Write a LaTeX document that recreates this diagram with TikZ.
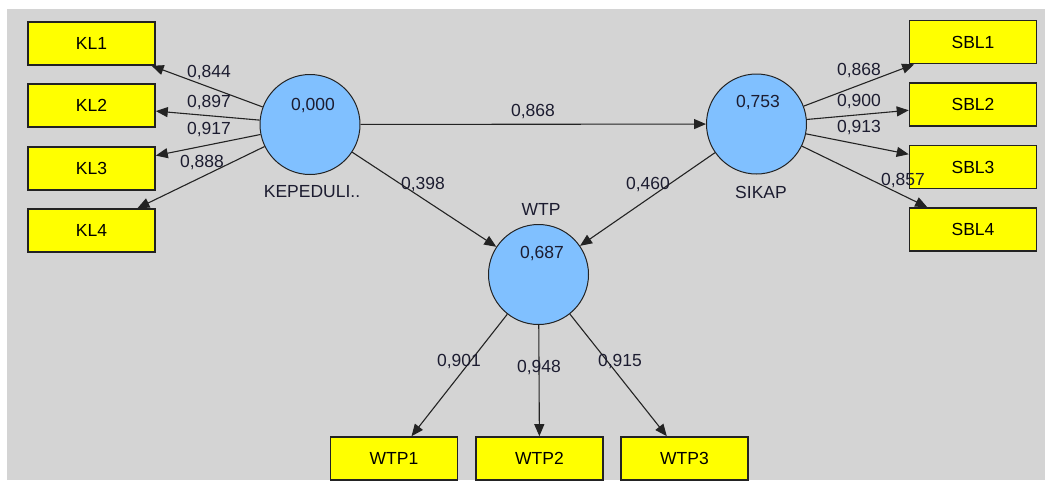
\documentclass[tikz,border=0pt]{standalone}
\usepackage{fontspec}
\setmainfont{Liberation Sans}
\usetikzlibrary{arrows.meta}
\definecolor{bg}{RGB}{212,212,212}
\definecolor{lv}{RGB}{128,192,255}
\definecolor{mv}{RGB}{255,255,0}
\definecolor{txt}{RGB}{28,28,48}
\definecolor{ln}{RGB}{35,35,35}
\tikzset{
  every node/.style={font=\fontsize{17.5}{20}\selectfont},
  lat/.style={circle, draw=ln, line width=1pt, fill=lv, minimum size=100pt, inner sep=0pt},
  ind/.style={rectangle, draw=ln, line width=1.6pt, fill=mv, minimum width=127pt, minimum height=43pt, inner sep=0pt, text=black},
  lbl/.style={text=txt, inner sep=0pt},
  arr/.style={draw=ln, line width=1.1pt, -{Triangle[length=12pt,width=10pt]}},
}
\begin{document}
\begin{tikzpicture}[x=1pt,y=-1pt]
\useasboundingbox (0,0) rectangle (1045,480);
\fill[white] (0,0) rectangle (1045,480);
\fill[bg] (7,9) rectangle (1045,480);
% latent variables
\node[lat] (kep) at (310,124.5) {};
\node[lat] (sik) at (756.5,124) {};
\node[lat] (wtp) at (538.5,274.5) {};
\node[lbl] (kepv) at (313,106) {0,000};
\node[lbl] (sikv) at (758,103) {0,753};
\node[lbl] (wtpv) at (542,254) {0,687};
\node[lbl] (kepn) at (312,192) {KEPEDULI..};
\node[lbl] (sikn) at (761,192) {SIKAP};
\node[lbl] (wtpn) at (541,209) {WTP};
% indicators
\node[ind] (kl1) at (91.5,43.5) {KL1};
\node[ind] (kl2) at (91.5,105.5) {KL2};
\node[ind] (kl3) at (91.5,168.5) {KL3};
\node[ind] (kl4) at (91.5,230.5) {KL4};
\node[ind] (sb1) at (973,42) {SBL1};
\node[ind] (sb2) at (973,104.5) {SBL2};
\node[ind] (sb3) at (973,167) {SBL3};
\node[ind] (sb4) at (973,229.5) {SBL4};
\node[ind] (w1) at (394,458.5) {WTP1};
\node[ind] (w2) at (539.5,458.5) {WTP2};
\node[ind] (w3) at (684.5,458.5) {WTP3};
% connectors
\draw[arr] (kep) -- (kl1);
\draw[arr] (kep) -- (kl2);
\draw[arr] (kep) -- (kl3);
\draw[arr] (kep) -- (kl4);
\draw[arr] (sik) -- (sb1);
\draw[arr] (sik) -- (sb2);
\draw[arr] (sik) -- (sb3);
\draw[arr] (sik) -- (sb4);
\draw[arr] (wtp) -- (w1);
\draw[arr] (wtp) -- (w2);
\draw[arr] (wtp) -- (w3);
\draw[arr] (kep) -- (sik);
\draw[arr] (kep) -- (wtp);
\draw[arr] (sik) -- (wtp);
% path labels
\node[lbl] (e1) at (209,73) {0,844};
\node[lbl] (e2) at (209,103) {0,897};
\node[lbl] (e3) at (209,130) {0,917};
\node[lbl] (e4) at (202,163) {0,888};
\node[lbl] (f1) at (859,71) {0,868};
\node[lbl] (f2) at (859,102) {0,900};
\node[lbl] (f3) at (859,128) {0,913};
\node[lbl] (f4) at (903,181) {0,857};
\node[lbl] (g1) at (459,362) {0,901};
\node[lbl] (g2) at (539,368) {0,948};
\node[lbl] (g3) at (620,362) {0,915};
\node[lbl] (p1) at (533,112) {0,868};
\node[lbl] (p2) at (423,185) {0,398};
\node[lbl] (p3) at (648,185) {0,460};
\end{tikzpicture}
\end{document}
